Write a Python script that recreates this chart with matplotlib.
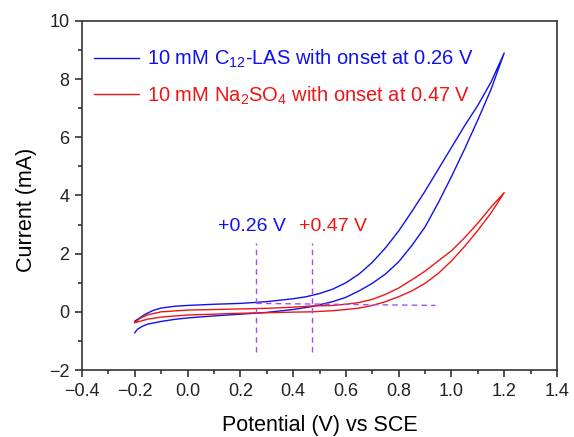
import numpy as np
import matplotlib
matplotlib.use("Agg")
import matplotlib.pyplot as plt
from matplotlib.ticker import MultipleLocator, FuncFormatter

plt.rcParams['font.family'] = ['Liberation Sans', 'DejaVu Sans']
plt.rcParams['mathtext.fontset'] = 'custom'
plt.rcParams['mathtext.rm'] = 'Liberation Sans'
plt.rcParams['mathtext.it'] = 'Liberation Sans'

# ---- CV data (potential V vs SCE, current mA) ----
# C12-LAS, low-current branch going out, high-current branch coming back
las_fwd_E = [-0.20, -0.19, -0.17, -0.15, -0.10, -0.05, 0.00, 0.10, 0.20, 0.30, 0.40, 0.47,
             0.55, 0.60, 0.65, 0.70, 0.75, 0.80, 0.85, 0.90, 0.95, 1.00, 1.05, 1.10, 1.15, 1.20]
las_fwd_I = [-0.72, -0.60, -0.49, -0.42, -0.33, -0.26, -0.21, -0.14, -0.08, -0.02, 0.08, 0.18,
             0.35, 0.50, 0.72, 0.98, 1.30, 1.72, 2.28, 2.92, 3.75, 4.65, 5.60, 6.60, 7.65, 8.90]
las_rev_E = [1.20, 1.15, 1.10, 1.05, 1.00, 0.95, 0.90, 0.85, 0.80, 0.75, 0.70, 0.65, 0.60,
             0.55, 0.50, 0.45, 0.40, 0.30, 0.20, 0.10, 0.00, -0.05, -0.10, -0.13, -0.16, -0.18, -0.20]
las_rev_I = [8.90, 7.90, 7.10, 6.40, 5.65, 4.90, 4.15, 3.45, 2.78, 2.20, 1.70, 1.30, 1.00,
             0.78, 0.63, 0.52, 0.45, 0.35, 0.29, 0.26, 0.22, 0.19, 0.13, 0.05, -0.08, -0.20, -0.32]

# Na2SO4
na_fwd_E = [-0.20, -0.17, -0.15, -0.10, 0.00, 0.10, 0.20, 0.30, 0.40, 0.47, 0.55, 0.60,
            0.65, 0.70, 0.75, 0.80, 0.85, 0.90, 0.95, 1.00, 1.05, 1.10, 1.15, 1.20]
na_fwd_I = [-0.37, -0.30, -0.25, -0.18, -0.11, -0.08, -0.05, -0.03, -0.01, 0.00, 0.04, 0.08,
            0.13, 0.22, 0.35, 0.52, 0.72, 0.98, 1.32, 1.75, 2.25, 2.80, 3.40, 4.10]
na_rev_E = [1.20, 1.15, 1.10, 1.05, 1.00, 0.95, 0.90, 0.85, 0.80, 0.75, 0.70, 0.65, 0.60,
            0.55, 0.47, 0.40, 0.30, 0.20, 0.10, 0.00, -0.10, -0.15, -0.18, -0.20]
na_rev_I = [4.10, 3.60, 3.05, 2.55, 2.10, 1.75, 1.40, 1.10, 0.82, 0.60, 0.43, 0.32, 0.26,
            0.22, 0.20, 0.16, 0.12, 0.10, 0.08, 0.06, 0.00, -0.10, -0.22, -0.37]

onset_las = 0.26
onset_na = 0.47
onset_span = [-1.37, 2.38]
baseline_E = [0.26, 0.94]
baseline_I = [0.29, 0.22]

blue = '#1010f0'
red = '#f01414'
purple = '#a050f0'

fig = plt.figure(figsize=(5.74, 4.37), dpi=100)
ax = fig.add_axes([0.1429, 0.1533, 0.8275, 0.7987])

ax.plot(las_fwd_E + las_rev_E, las_fwd_I + las_rev_I, color=blue, linewidth=1.0,
        label='10 mM C$_{12}$-LAS with onset at 0.26 V')
ax.plot(na_fwd_E + na_rev_E, na_fwd_I + na_rev_I, color=red, linewidth=1.0,
        label='10 mM Na$_{2}$SO$_{4}$ with onset at 0.47 V')

# onset markers
ax.plot([onset_las, onset_las], onset_span, linestyle=(0, (4, 3)), color=purple, linewidth=1.0)
ax.plot([onset_na, onset_na], onset_span, linestyle=(0, (4, 3)), color=purple, linewidth=1.0)
ax.plot(baseline_E, baseline_I, linestyle=(0, (4, 3)), color=purple, linewidth=1.0)
ax.text(0.245, 2.93, '+0.26 V', color=blue, fontsize=14, ha='center', va='center')
ax.text(0.55, 2.93, '+0.47 V', color=red, fontsize=14, ha='center', va='center')

ax.set_xlim(-0.4, 1.4)
ax.set_ylim(-2, 10)
ax.xaxis.set_major_locator(MultipleLocator(0.2))
ax.xaxis.set_minor_locator(MultipleLocator(0.1))
ax.yaxis.set_major_locator(MultipleLocator(2))
ax.yaxis.set_minor_locator(MultipleLocator(1))
ax.xaxis.set_major_formatter(FuncFormatter(lambda v, p: f'{v:.1f}'.replace('-', '\u2212')))
ax.yaxis.set_major_formatter(FuncFormatter(lambda v, p: f'{v:.0f}'.replace('-', '\u2212')))
ax.tick_params(which='both', direction='out', width=1.1, labelsize=13, colors='#222222')
ax.tick_params(which='major', length=5, pad=4)
ax.tick_params(which='minor', length=3)
for s in ax.spines.values():
    s.set_linewidth(1.2)
    s.set_color('#333333')

ax.set_xlabel('Potential (V) vs SCE', fontsize=15.5, labelpad=11)
ax.set_ylabel('Current (mA)', fontsize=15.5)
ax.yaxis.set_label_coords(-0.095, 0.46)

ax.legend(loc='upper left', bbox_to_anchor=(-0.012, 0.975), frameon=False, fontsize=14.5,
          handlelength=2.2, handletextpad=0.4, labelspacing=0.7, labelcolor='linecolor')

fig.savefig('out.png', dpi=100)
